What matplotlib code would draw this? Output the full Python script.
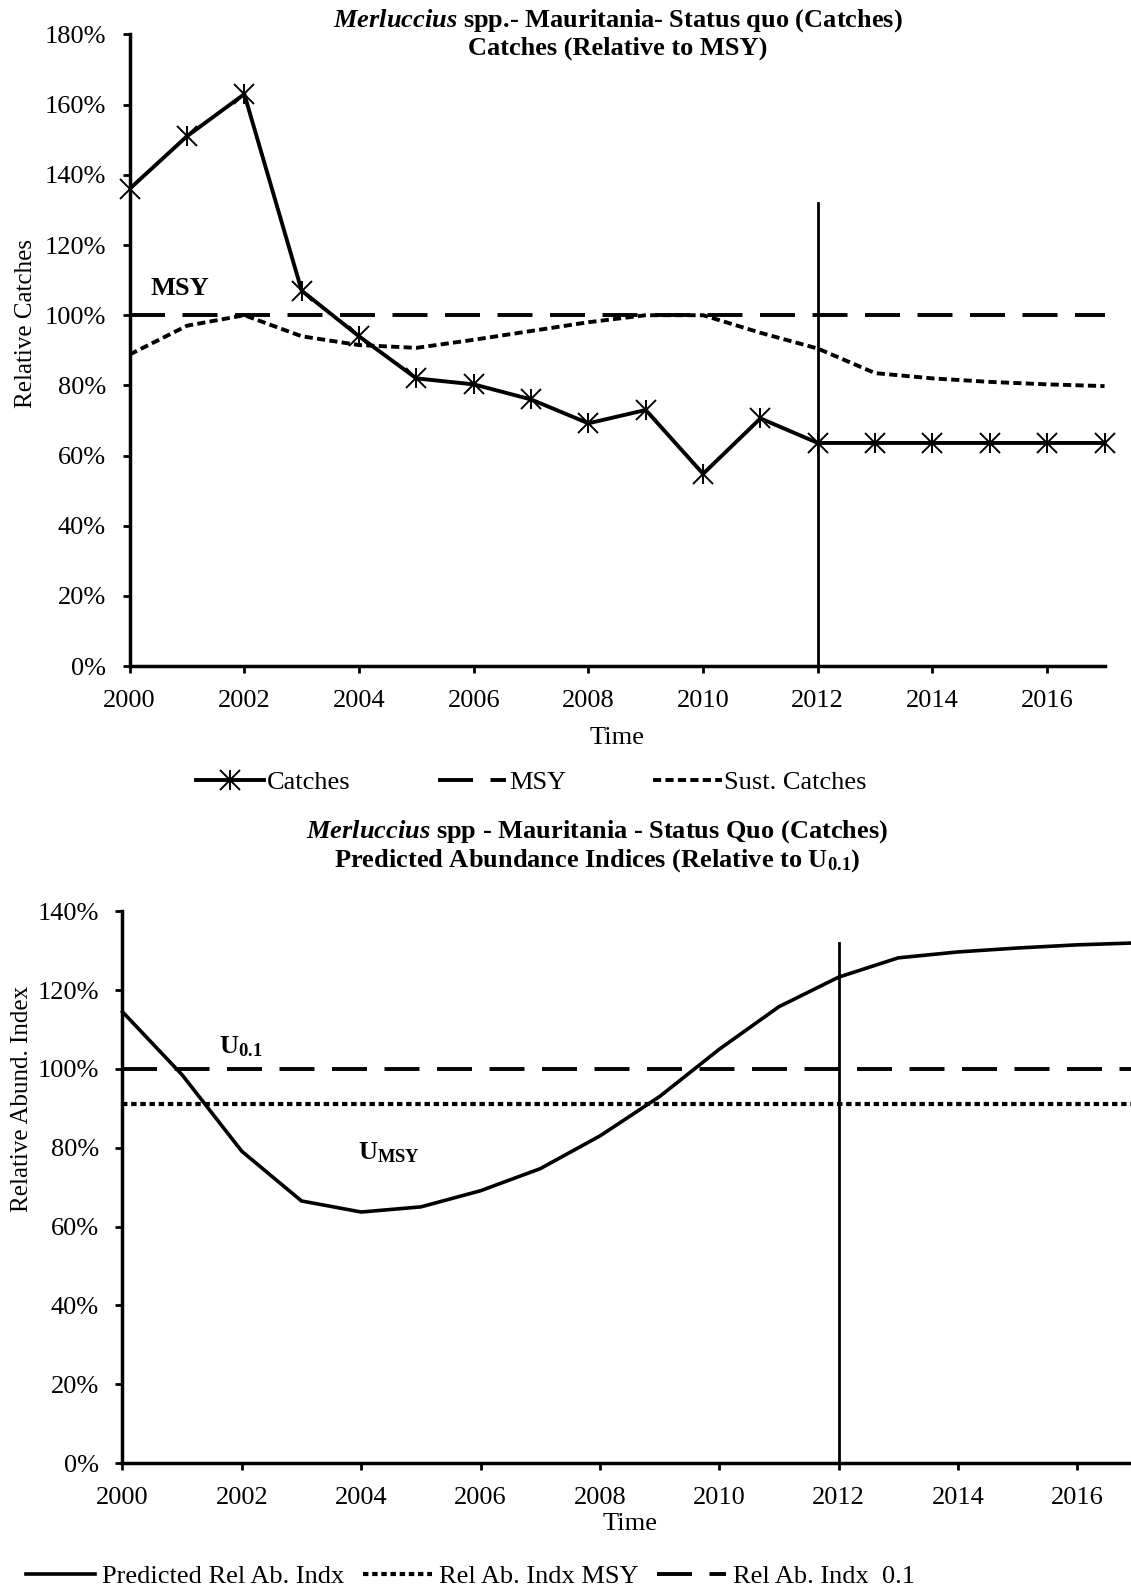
import numpy as np
import matplotlib.pyplot as plt
from matplotlib.ticker import PercentFormatter
from matplotlib.legend_handler import HandlerTuple

plt.rcParams['font.family'] = ['Liberation Serif', 'DejaVu Serif']
plt.rcParams['font.size'] = 19
plt.rcParams['mathtext.fontset'] = 'custom'
plt.rcParams['mathtext.rm'] = 'Liberation Serif'
plt.rcParams['mathtext.it'] = 'Liberation Serif:italic'
plt.rcParams['mathtext.bf'] = 'Liberation Serif:bold'
plt.rcParams['mathtext.bfit'] = 'Liberation Serif:italic:bold'

# data (percent)
years = list(range(2000, 2018))
catches = [136, 151, 163, 107, 94, 82, 80.3, 76, 69.2, 73, 54.8, 70.6,
           63.6, 63.6, 63.6, 63.6, 63.6, 63.6]
msy = [100] * len(years)
sust_catches = [88.8, 97, 100, 94, 91.5, 90.7, 93, 95.5, 98, 100, 100, 95,
                90.5, 83.5, 82, 81, 80.3, 79.8]

rel_ab_pred = [114.5, 98.5, 79.1, 66.5, 63.7, 65, 69.1, 74.7, 83, 93, 105,
               115.8, 123.3, 128.2, 129.7, 130.7, 131.5, 132]
rel_ab_msy = [91] * len(years)
rel_ab_01 = [100] * len(years)

proj_year = 2012
proj_top = 132

fig = plt.figure(figsize=(11.31, 15.88), dpi=100)

def style_axes(ax, ymax, ystep):
    for s in ['top', 'right']:
        ax.spines[s].set_visible(False)
    for s in ['left', 'bottom']:
        ax.spines[s].set_linewidth(2.5)
    ax.set_xlim(2000, 2017)
    ax.set_ylim(0, ymax)
    ax.set_xticks(range(2000, 2017, 2))
    ax.set_yticks(np.arange(0, ymax + 1, ystep))
    ax.yaxis.set_major_formatter(PercentFormatter(decimals=0))
    ax.tick_params(direction='out', length=5, width=2, pad=12)

# ---- top chart: catches ----
ax1 = fig.add_axes([0.1146, 0.5805, 0.862, 0.3978])
style_axes(ax1, 180, 20)
c_line, = ax1.plot(years, catches, color='black', lw=2.8)
m1, = ax1.plot(years, catches, ls='none', marker='x', ms=14, mew=1.4, color='black', clip_on=False)
m2, = ax1.plot(years, catches, ls='none', marker='|', ms=15, mew=1.4, color='black', clip_on=False)
msy_line, = ax1.plot(years, msy, color='black', lw=2.8, ls=(0, (9, 4.5)))
sust_line, = ax1.plot(years, sust_catches, color='black', lw=2.8, ls=(0, (2.1, 1.1)))
ax1.plot([proj_year, proj_year], [0, proj_top], color='black', lw=2)
ax1.text(2000.88, 107.5, 'MSY', fontweight='bold', ha='center', va='center')
ax1.set_ylabel('Relative Catches', fontsize=18)
ax1.yaxis.set_label_coords(-0.095, 0.542)
ax1.set_xlabel('Time', labelpad=11)
fig.text(618 / 1131, 1 - 34 / 1588,
         r'$\mathbfit{Merluccius}$' + ' spp.- Mauritania- Status quo (Catches)\nCatches (Relative to MSY)',
         ha='center', va='center', fontweight='bold', linespacing=1.15)
ax1.legend([(c_line, m1, m2), msy_line, sust_line], ['Catches', 'MSY', 'Sust. Catches'],
           handler_map={tuple: HandlerTuple(ndivide=1)}, ncol=3, frameon=False,
           loc='center', bbox_to_anchor=(0.412, -0.184), handlelength=2.6,
           handletextpad=0.1, columnspacing=3.3)

# ---- bottom chart: abundance ----
ax2 = fig.add_axes([0.1083, 0.0787, 0.897, 0.3474])
style_axes(ax2, 140, 20)
p_line, = ax2.plot(years, rel_ab_pred, color='black', lw=2.6, clip_on=False)
u_msy, = ax2.plot(years, rel_ab_msy, color='black', lw=3.0, ls=(0, (1.3, 0.9)))
u_01, = ax2.plot(years, rel_ab_01, color='black', lw=2.8, ls=(0, (9, 4.5)))
ax2.plot([proj_year, proj_year], [0, proj_top], color='black', lw=2)
ax2.text(2001.62, 104, r'U$_{\mathbf{0.1}}$', fontweight='bold')
ax2.text(2003.95, 77, r'U$_{\mathbf{MSY}}$', fontweight='bold')
ax2.set_ylabel('Relative Abund. Index', fontsize=18)
ax2.yaxis.set_label_coords(-0.088, 0.66)
ax2.set_xlabel('Time', labelpad=3)
fig.text(597 / 1131, 1 - 846 / 1588,
         r'$\mathbfit{Merluccius}$' + ' spp - Mauritania - Status Quo (Catches)\n'
         r'Predicted Abundance Indices (Relative to U$_{\mathbf{0.1}}$)',
         ha='center', va='center', fontweight='bold', linespacing=1.15)
fig.legend([p_line, u_msy, u_01], ['Predicted Rel Ab. Indx', 'Rel Ab. Indx MSY', 'Rel Ab. Indx  0.1'],
           ncol=3, frameon=False, loc='center left', bbox_to_anchor=(0.014, 1 - 1576 / 1588),
           handlelength=2.6, handletextpad=0.28, columnspacing=0.7, borderaxespad=0)

fig.savefig('out.png', dpi=100)
